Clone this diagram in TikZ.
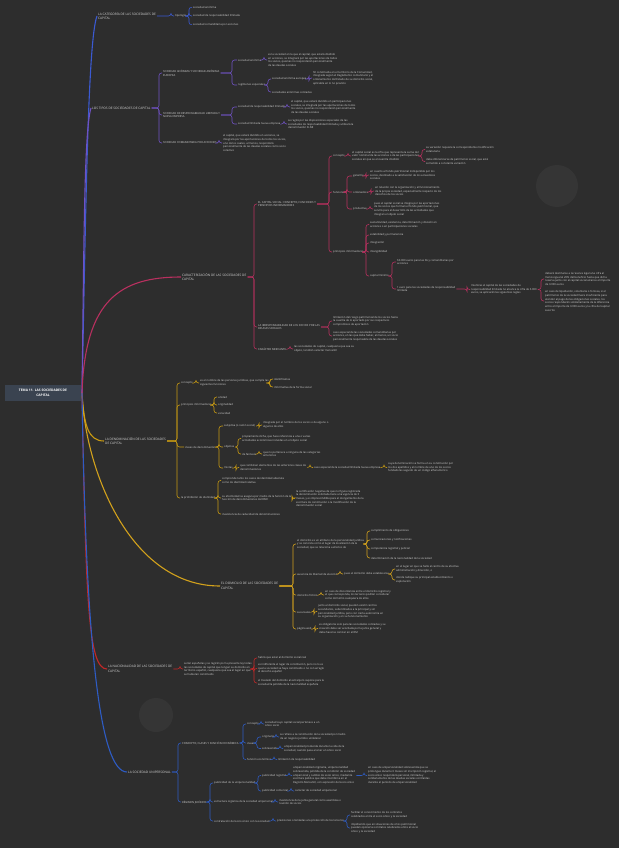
\documentclass[tikz,border=0pt]{standalone}
\usepackage{fontspec}
\setmainfont{Open Sans}
\definecolor{bg}{HTML}{2D2D2D}
\definecolor{circ}{HTML}{353535}
\definecolor{txtc}{HTML}{D2D2D2}
\definecolor{rootf}{HTML}{3A4350}
\definecolor{cA}{HTML}{3B5AD2}
\definecolor{cB}{HTML}{7052C4}
\definecolor{cC}{HTML}{B8305F}
\definecolor{cD}{HTML}{C89A12}
\definecolor{cE}{HTML}{D2A11C}
\definecolor{cF}{HTML}{C42828}
\definecolor{cG}{HTML}{2E5CC4}
\newcommand\mmfont{\fontsize{2.7}{3.7}\selectfont}
\newcommand\mmcaps{\fontsize{3.2}{4.5}\selectfont}
\newcommand\lk[3][3]{\path (#3.west) ++(-#1,0) coordinate (tmpb); \draw[sub] (#2.east) -- (#2.east -| tmpb) |- (#3.west);}
\begin{document}
\begin{tikzpicture}[x=1pt,y=-1pt,
  t/.style={anchor=west, inner sep=0pt, outer sep=1.2pt, font=\mmfont, text=txtc, align=left},
  tc/.style={t, font=\mmcaps},
  rootn/.style={fill=rootf, minimum width=76, minimum height=16, inner sep=1pt, align=center, text=white, font=\fontsize{3.3}{4.4}\selectfont\bfseries},
  mainb/.style={line width=1.1pt},
  sub/.style={line width=0.55pt, rounded corners=2.5pt}]
\fill[bg] (0,0) rectangle (619,848);
\fill[circ] (557,186) circle (21);
\fill[circ] (156,715) circle (17);

\node[rootn] (root) at (43,393) {TEMA 11. LAS SOCIEDADES DE\\CAPITAL};
\coordinate (r0) at (82,393);

% ---------- Branch 1
\node[tc] (b1) at (97,16) {LA CATEGORÍA DE LAS SOCIEDADES DE\\CAPITAL};
\node[t] (b1a) at (174,16) {tipología};
\node[t] (b1a1) at (192,7.3) {sociedad anónima};
\node[t] (b1a2) at (192,16) {sociedad de responsabilidad limitada};
\node[t] (b1a3) at (192,24.7) {sociedad comanditaria por acciones};
\draw[mainb, cA] (root.east) -- (r0) .. controls (86,200) and (88,40) .. (b1.west);
\begin{scope}[sub/.append style={draw=cA}]
\lk{b1}{b1a}\lk{b1a}{b1a1}\lk{b1a}{b1a2}\lk{b1a}{b1a3}
\end{scope}

% ---------- Branch 2
\node[tc] (b2) at (91,108) {LOS TIPOS DE SOCIEDADES DE CAPITAL};
\node[t] (b2a) at (162,73) {SOCIEDAD ANÓNIMA Y SOCIEDAD ANÓNIMA\\EUROPEA};
\node[t] (b2b) at (162,115) {SOCIEDAD DE RESPONSABILIDAD LIMITADA Y\\NUEVA EMPRESA};
\node[t] (b2c) at (162,143) {SOCIEDAD COMANDITARIA POR ACCIONES};
\node[t] (b2a1) at (237,60) {sociedad anónima};
\node[t] (b2a2) at (237,85) {regímenes especiales};
\node[t] (b2a1t) at (267,60) {es la sociedad en la que el capital, que estará dividido\\en acciones, se integrará por las aportaciones de todos\\los socios, quienes no responderán personalmente\\de las deudas sociales};
\node[t] (b2a2a) at (271,79) {sociedad anónima europea};
\node[t] (b2a2b) at (271,92) {sociedades anónimas cotizadas};
\node[t] (b2a2at) at (312,78) {SE constituida en el territorio de la Comunidad,\\integrada según el Reglamento comunitario y el\\ordenamiento del Estado de su domicilio social,\\aplicable en lo no previsto};
\node[t] (b2b1) at (237,107) {sociedad de responsabilidad limitada};
\node[t] (b2b2) at (237,124) {sociedad limitada nueva empresa};
\node[t] (b2b1t) at (290,107) {el capital, que estará dividido en participaciones\\sociales, se integrará por las aportaciones de todos\\los socios, quienes no responderán personalmente\\de las deudas sociales};
\node[t] (b2b2t) at (287,124) {se regirá por las disposiciones especiales de las\\sociedades de responsabilidad limitada y utilizará la\\denominación SLNE};
\node[t] (b2ct) at (222,143) {el capital, que estará dividido en acciones, se\\integrará por las aportaciones de todos los socios,\\uno de los cuales, al menos, responderá\\personalmente de las deudas sociales como socio\\colectivo};
\draw[mainb, cB] (r0) .. controls (84,250) and (84,130) .. (b2.west);
\begin{scope}[sub/.append style={draw=cB}]
\lk{b2}{b2a}\lk{b2}{b2b}\lk{b2}{b2c}
\lk[5]{b2a}{b2a1}\lk[5]{b2a}{b2a2}\lk{b2a1}{b2a1t}
\lk{b2a2}{b2a2a}\lk{b2a2}{b2a2b}\lk{b2a2a}{b2a2at}
\lk[5]{b2b}{b2b1}\lk[5]{b2b}{b2b2}\lk{b2b1}{b2b1t}\lk{b2b2}{b2b2t}
\lk{b2c}{b2ct}
\end{scope}

% ---------- Branch 3
\node[tc] (b3) at (181,277) {CARACTERIZACIÓN DE LAS SOCIEDADES DE\\CAPITAL};
\node[t] (b3a) at (257,204) {EL CAPITAL SOCIAL: CONCEPTO, FUNCIONES Y\\PRINCIPIOS INFORMADORES};
\node[t] (b3b) at (257,327) {LA IRRESPONSABILIDAD DE LOS SOCIOS POR LAS\\DEUDAS SOCIALES};
\node[t] (b3c) at (257,349) {CARÁCTER MERCANTIL};
\node[t] (c1) at (332,156) {concepto};
\node[t] (c2) at (332,192) {funciones};
\node[t] (c3) at (332,252) {principios informadores};
\node[t] (c1t) at (351,156) {el capital social es la cifra que representa la suma del\\valor nominal de las acciones o de las participaciones\\sociales en que se encuentra dividido};
\node[t] (c1t1) at (425,149.5) {su variación requiere la correspondiente modificación\\estatutaria};
\node[t] (c1t2) at (425,161.5) {debe diferenciarse de patrimonio social, que está\\sometido a constante variación};
\node[t] (c2a) at (352,176) {garantía};
\node[t] (c2b) at (352,192) {ordenadora};
\node[t] (c2c) at (352,209) {productiva};
\node[t] (c2at) at (369,175) {en cuanto al fondo patrimonial indisponible por los\\socios, destinado a la satisfacción de los acreedores\\sociales};
\node[t] (c2bt) at (374,191) {en relación con la organización y el funcionamiento\\de la propia sociedad, especialmente respecto de los\\derechos de los socios};
\node[t] (c2ct) at (373,209) {pues el capital social se integra por las aportaciones\\de los socios que forman el fondo patrimonial, que\\servirá para el desarrollo de las actividades que\\integran el objeto social};
\node[t] (c3a) at (369,224.5) {sustantividad, existencia, determinación y división en\\acciones o en participaciones sociales};
\node[t] (c3b) at (369,235) {estabilidad y permanencia};
\node[t] (c3c) at (369,243) {integración};
\node[t] (c3d) at (369,252) {intangibilidad};
\node[t] (c3e) at (369,276) {capital mínimo};
\node[t] (c3e1) at (396,262) {60.000 euros para las SA y comanditarias por\\acciones};
\node[t] (c3e2) at (396,289) {1 euro para las sociedades de responsabilidad\\limitada};
\node[t] (c3e2t) at (470,289.5) {mientras el capital de las sociedades de\\responsabilidad limitada no alcance la cifra de 3.000\\euros, se aplicarán las siguientes reglas};
\node[t] (m1) at (544,279) {deberá destinarse a la reserva legal una cifra al\\menos igual al 20\% del beneficio hasta que dicha\\reserva junto con el capital social alcance el importe\\de 3.000 euros};
\node[t] (m2) at (544,301) {en caso de liquidación, voluntaria o forzosa, si el\\patrimonio de la sociedad fuera insuficiente para\\atender al pago de las obligaciones sociales, los\\socios responderán solidariamente de la diferencia\\entre el importe de 3.000 euros y la cifra del capital\\suscrito};
\node[t] (b3b1) at (332,321) {limitación del riesgo patrimonial de los socios hasta\\la cuantía de lo aportado por sus respectivos\\compromisos de aportación};
\node[t] (b3b2) at (332,336) {caso especial de las sociedades comanditarias por\\acciones, en las que debe haber, al menos, un socio\\personalmente responsable de las deudas sociales};
\node[t] (b3ct) at (293,349) {las sociedades de capital, cualquiera que sea su\\objeto, tendrán carácter mercantil};
\draw[mainb, cC] (r0) .. controls (85,300) and (120,277) .. (b3.west);
\begin{scope}[sub/.append style={draw=cC}]
\lk{b3}{b3a}\lk{b3}{b3b}\lk{b3}{b3c}
\lk{b3a}{c1}\lk{b3a}{c2}\lk{b3a}{c3}
\lk{c1}{c1t}\lk{c1t}{c1t1}\lk{c1t}{c1t2}
\lk[5]{c2}{c2a}\lk[5]{c2}{c2b}\lk[5]{c2}{c2c}
\lk{c2a}{c2at}\lk{c2b}{c2bt}\lk{c2c}{c2ct}
\lk{c3}{c3a}\lk{c3}{c3b}\lk{c3}{c3c}\lk{c3}{c3d}\lk{c3}{c3e}
\lk[4]{c3e}{c3e1}\lk[4]{c3e}{c3e2}\lk{c3e2}{c3e2t}
\lk{c3e2t}{m1}\lk{c3e2t}{m2}
\lk{b3b}{b3b1}\lk{b3b}{b3b2}\lk{b3c}{b3ct}
\end{scope}

% ---------- Branch 4
\node[tc] (b4) at (104,441) {LA DENOMINACIÓN DE LAS SOCIEDADES\\DE CAPITAL};
\node[t] (d1) at (180,383) {concepto};
\node[t] (d2) at (180,405) {principios informadores};
\node[t] (d3) at (184,447) {clases de denominación};
\node[t] (d4) at (180,498) {la prohibición de identidad};
\node[t] (d1t) at (199,383) {es el nombre de las personas jurídicas, que cumple las\\siguientes funciones};
\node[t] (d1t1) at (273,379) {identificativa};
\node[t] (d1t2) at (273,387) {informativa de la forma social};
\node[t] (d2a) at (217,397) {unidad};
\node[t] (d2b) at (217,405) {originalidad};
\node[t] (d2c) at (217,413) {veracidad};
\node[t] (d3a) at (223,426) {subjetiva (o razón social)};
\node[t] (d3b) at (223,447) {objetiva};
\node[t] (d3c) at (223,468) {mixtas};
\node[t] (d3at) at (262,425) {integrada por el nombre de los socios o de alguno o\\algunos de ellos};
\node[t] (d3b1) at (241,438.5) {propiamente dicha, que hace referencia a una o varias\\actividades económicas incluidas en el objeto social};
\node[t] (d3b2) at (241,454) {de fantasía};
\node[t] (d3b2t) at (262,454) {que no pertenece a ninguna de las categorías\\anteriores};
\node[t] (d3ct) at (239,467.5) {que combinan elementos de las anteriores clases de\\denominaciones};
\node[t] (d3cs) at (313,467.5) {caso especial de la sociedad limitada nueva empresa};
\node[t] (d3cst) at (387,467.5) {cuya denominación se forma en su constitución por\\los dos apellidos y el nombre de uno de los socios\\fundadores seguido de un código alfanumérico};
\node[t] (d4a) at (221,480.5) {comprende tanto los casos de identidad absoluta\\como de identidad relativa};
\node[t] (d4b) at (221,498) {su efectividad se asegura por medio de la función de la\\Sección de denominaciones del RMC};
\node[t] (d4c) at (221,514) {inexistencia de caducidad de denominaciones};
\node[t] (d4bt) at (295,498.5) {la certificación negativa de que no figura registrada\\la denominación solicitada tiene una vigencia de 3\\meses, y es imprescindible para el otorgamiento de la\\escritura de constitución o la modificación de la\\denominación social};
\draw[mainb, cD] (r0) .. controls (84,425) and (88,441) .. (b4.west);
\begin{scope}[sub/.append style={draw=cD}]
\lk{b4}{d1}\lk{b4}{d2}\lk[7]{b4}{d3}\lk{b4}{d4}
\lk{d1}{d1t}\lk{d1t}{d1t1}\lk{d1t}{d1t2}
\lk{d2}{d2a}\lk{d2}{d2b}\lk{d2}{d2c}
\lk[4]{d3}{d3a}\lk[4]{d3}{d3b}\lk[4]{d3}{d3c}
\lk{d3a}{d3at}\lk{d3b}{d3b1}\lk{d3b}{d3b2}\lk{d3b2}{d3b2t}
\lk{d3c}{d3ct}\lk{d3ct}{d3cs}\lk{d3cs}{d3cst}
\lk{d4}{d4a}\lk{d4}{d4b}\lk{d4}{d4c}\lk{d4b}{d4bt}
\end{scope}

% ---------- Branch 5
\node[tc] (b5) at (220,586) {EL DOMICILIO DE LAS SOCIEDADES DE\\CAPITAL};
\node[t] (e1) at (296,544) {el domicilio es un atributo de la personalidad jurídica\\y se concreta como el lugar de localización de la\\sociedad, que se relaciona a efectos de};
\node[t] (e2) at (296,574) {ausencia de libertad de elección};
\node[t] (e3) at (296,595) {domicilio ficticio};
\node[t] (e4) at (296,612) {sucursales};
\node[t] (e5) at (296,629) {página web};
\node[t] (e1a) at (370,531) {cumplimiento de obligaciones};
\node[t] (e1b) at (370,540) {comunicaciones y notificaciones};
\node[t] (e1c) at (370,549) {competencia registral y judicial};
\node[t] (e1d) at (370,558) {determinación de la nacionalidad de la sociedad};
\node[t] (e2t) at (343,574) {pues el domicilio debe establecerse};
\node[t] (e2a) at (395,569) {en el lugar en que se halle el centro de su efectiva\\administración y dirección, o};
\node[t] (e2b) at (395,580) {donde radique su principal establecimiento o\\explotación};
\node[t] (e3t) at (324,595) {en caso de discordancia entre el domicilio registral y\\el que corresponda, los terceros podrán considerar\\como domicilio cualquiera de ellos};
\node[t] (e4t) at (317,611.5) {junto al domicilio social, pueden existir centros\\secundarios, subordinados a la principal y sin\\personalidad jurídica, pero con cierta autonomía en\\su organización y en su funcionamiento};
\node[t] (e5t) at (318,628.5) {es obligatoria solo para las sociedades cotizadas y su\\creación debe ser acordada por la junta general y\\debe hacerse constar en el RM};
\draw[mainb, cE] (r0) .. controls (85,470) and (130,586) .. (b5.west);
\begin{scope}[sub/.append style={draw=cE}]
\lk{b5}{e1}\lk{b5}{e2}\lk{b5}{e3}\lk{b5}{e4}\lk{b5}{e5}
\lk{e1}{e1a}\lk{e1}{e1b}\lk{e1}{e1c}\lk{e1}{e1d}
\lk{e2}{e2t}\lk{e2t}{e2a}\lk{e2t}{e2b}
\lk{e3}{e3t}\lk{e4}{e4t}\lk{e5}{e5t}
\end{scope}

% ---------- Branch 6
\node[tc] (b6) at (107,669) {LA NACIONALIDAD DE LAS SOCIEDADES DE\\CAPITAL};
\node[t] (b6t) at (183,669) {serán españolas y se regirán por la presente ley todas\\las sociedades de capital que tengan su domicilio en\\territorio español, cualquiera que sea el lugar en que\\se hubieran constituido};
\node[t] (f1) at (257,658) {habrá que estar al domicilio social real};
\node[t] (f2) at (257,668.5) {es indiferente el lugar de constitución, pero no lo es\\que la sociedad se haya constituido o no con arreglo\\al derecho español};
\node[t] (f3) at (257,683) {el traslado del domicilio al extranjero supone para la\\sociedad la pérdida de la nacionalidad española};
\draw[mainb, cF] (r0) .. controls (86,600) and (88,669) .. (b6.west);
\begin{scope}[sub/.append style={draw=cF}]
\lk{b6}{b6t}\lk{b6t}{f1}\lk{b6t}{f2}\lk{b6t}{f3}
\end{scope}

% ---------- Branch 7
\node[tc] (b7) at (127,772) {LA SOCIEDAD UNIPERSONAL};
\node[t] (u1) at (181,743) {CONCEPTO, CLASES Y FUNCIÓN ECONÓMICA};
\node[t] (u2) at (181,802) {RÉGIMEN JURÍDICO};
\node[t] (u1a) at (246,724) {concepto};
\node[t] (u1b) at (246,743) {clases};
\node[t] (u1c) at (246,759.5) {función económica};
\node[t] (u1at) at (264,724) {sociedad cuyo capital social pertenece a un\\único socio};
\node[t] (u1b1) at (261,737) {originaria};
\node[t] (u1b2) at (261,748.5) {sobrevenida};
\node[t] (u1b1t) at (279,737) {se refiere a la constitución de la sociedad por medio\\de un negocio jurídico unilateral};
\node[t] (u1b2t) at (283,748.5) {unipersonalidad producida durante la vida de la\\sociedad, cuando pasa a tener un único socio};
\node[t] (u1ct) at (277,759.5) {limitación de responsabilidad};
\node[t] (u2a) at (213,783) {publicidad de la unipersonalidad};
\node[t] (u2b) at (213,802) {estructura orgánica de la sociedad unipersonal};
\node[t] (u2c) at (213,821) {contratación del socio único con la sociedad};
\node[t] (u2a1) at (261,775.5) {publicidad registral};
\node[t] (u2a2) at (261,791) {publicidad comercial};
\node[t] (u2a1t) at (292,775.5) {unipersonalidad originaria, unipersonalidad\\sobrevenida, pérdida de la condición de sociedad\\unipersonal y cambio de socio único, mediante\\escritura pública que debe inscribirse en el\\Registro Mercantil, con expresión del socio único};
\node[t] (u2a1s) at (367,775.5) {en caso de unipersonalidad sobrevenida que se\\prolongue durante 6 meses sin inscripción registral, el\\socio único responderá personal, ilimitada y\\solidariamente de las deudas sociales contraídas\\durante el período de unipersonalidad};
\node[t] (u2a2t) at (294,791) {carácter de sociedad unipersonal};
\node[t] (u2bt) at (278,802) {inexistencia de la junta general como asamblea o\\reunión de socios};
\node[t] (u2ct) at (276,821) {previsiones orientadas a la protección de los terceros};
\node[t] (u2c1) at (350,815) {facilitar el conocimiento de los contratos\\celebrados entre el socio único y la sociedad};
\node[t] (u2c2) at (350,828) {impidiendo que en situaciones de crisis patrimonial\\puedan oponerse contratos celebrados entre el socio\\único y la sociedad};
\draw[mainb, cG] (r0) .. controls (86,650) and (100,772) .. (b7.west);
\begin{scope}[sub/.append style={draw=cG}]
\lk{b7}{u1}\lk{b7}{u2}
\lk{u1}{u1a}\lk{u1}{u1b}\lk{u1}{u1c}
\lk{u1a}{u1at}\lk[4]{u1b}{u1b1}\lk[4]{u1b}{u1b2}
\lk{u1b1}{u1b1t}\lk{u1b2}{u1b2t}\lk{u1c}{u1ct}
\lk{u2}{u2a}\lk{u2}{u2b}\lk{u2}{u2c}
\lk{u2a}{u2a1}\lk{u2a}{u2a2}
\lk{u2a1}{u2a1t}\lk{u2a1t}{u2a1s}\lk{u2a2}{u2a2t}
\lk{u2b}{u2bt}\lk{u2c}{u2ct}\lk{u2ct}{u2c1}\lk{u2ct}{u2c2}
\end{scope}
\end{tikzpicture}
\end{document}
